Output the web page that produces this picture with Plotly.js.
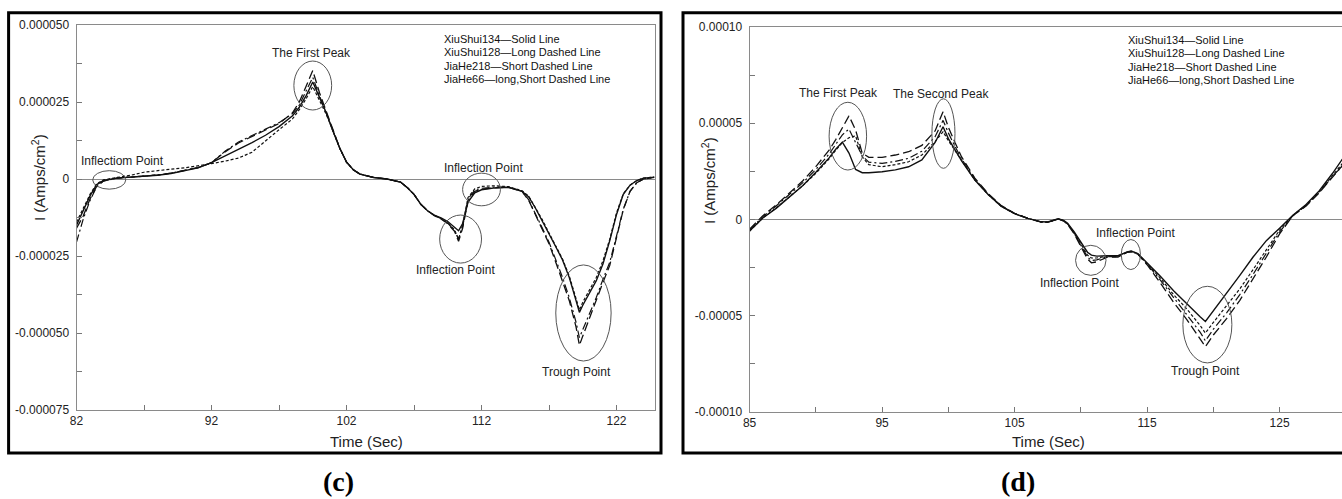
<!DOCTYPE html>
<html>
<head>
<meta charset="utf-8">
<script src="https://cdn.plot.ly/plotly-3.0.1.min.js"></script>
<style>
  html, body { margin: 0; padding: 0; background: #fff; }
  #chart { width: 1342px; height: 499px; }
</style>
</head>
<body>
<div id="chart"></div>
<script>
// ---------- Panel (c): time (s) and current (values in 1e-6 A/cm^2) ----------
const timeC = [82, 82.5, 83, 83.5, 84, 85, 86, 87, 88, 89, 90, 91, 92, 93, 94, 95, 96, 97, 98, 98.5, 99, 99.5, 100, 100.5, 101, 101.5, 102, 102.5, 103, 104, 105, 106, 106.5, 107, 107.5, 108, 108.5, 109, 109.5, 110, 110.3, 110.6, 111, 111.5, 112, 113, 114, 115, 115.5, 116, 116.5, 117, 117.5, 118, 118.5, 119, 119.25, 119.5, 120, 120.5, 121, 121.5, 122, 122.5, 123, 123.5, 124, 124.8];

const xiuShui134C = [-15, -10, -5.5, -1.8, -0.5, 0.3, 0.6, 0.9, 1.2, 1.8, 2.6, 3.6, 5.3, 7.5, 9.5, 11.8, 14.2, 17, 20.5, 23.3, 27, 31.5, 26.5, 21.5, 15.5, 10, 5.5, 3, 1.6, 0.5, 0, -1, -2.8, -5, -8.2, -10.3, -11.7, -12.6, -13.8, -15.5, -16.8, -14.5, -7.5, -4.5, -3.5, -2.9, -2.7, -4, -5.8, -9.5, -13.5, -17.8, -22, -26.3, -32, -39.5, -43.3, -41, -37, -33, -27.5, -20, -11.5, -5, -2, -0.5, 0.3, 0.6];

const xiuShui128C = [-16, -12, -6.5, -2.3, -0.6, 0.3, 0.6, 0.9, 1.3, 1.9, 2.7, 3.7, 5.3, 8.8, 11.7, 13.8, 15.8, 18, 21.5, 25, 30, 35.2, 28, 22, 15.5, 10, 5.5, 3, 1.6, 0.5, 0, -1, -2.8, -5, -8.2, -10.3, -11.9, -13, -14.5, -17, -20.2, -16, -7, -4, -3.3, -2.8, -2.7, -4, -7, -11.5, -16, -21, -27, -33, -39.5, -48, -54, -51, -45, -39.5, -33.5, -28, -19, -10, -4, -1.2, 0, 0.5];

const jiaHe218C = [-14, -9.5, -5, -1.5, -0.3, 0.5, 1.2, 2.2, 2.8, 3.2, 3.6, 4.2, 5, 5.8, 6.8, 8.7, 12.5, 16, 19.5, 22.5, 26, 30, 25.5, 21, 15.5, 10, 5.5, 3, 1.6, 0.5, 0, -1, -2.8, -5, -8.2, -10.3, -11.8, -12.8, -14.2, -16.5, -19.5, -15, -6, -3.2, -2.4, -2.2, -2.5, -3.8, -5.6, -9.2, -13.2, -17.5, -21.7, -26, -31.5, -38.5, -42.5, -40, -36, -32, -26.5, -19.5, -11, -4.8, -2, -0.5, 0.3, 0.6];

const jiaHe66C = [-20.5, -13, -7, -2.5, -0.7, 0.3, 0.6, 0.9, 1.3, 1.9, 2.7, 3.7, 5.3, 9, 12, 14.2, 16.2, 18.3, 21.2, 24, 28.5, 33, 27, 21.5, 15.5, 10, 5.5, 3, 1.6, 0.5, 0, -1, -2.8, -5, -8.2, -10.3, -11.8, -12.9, -14.3, -16.8, -19.5, -15.5, -6.5, -3.6, -3, -2.6, -2.6, -4, -6.8, -11.2, -15.6, -20.5, -26.2, -32, -38.5, -46.5, -51.5, -49, -43.5, -38.5, -32.5, -27, -18.5, -9.8, -4, -1.2, 0, 0.5];

// ---------- Panel (d) ----------
const timeD = [85, 86, 87, 88, 89, 90, 91, 91.5, 92, 92.5, 93, 93.5, 94, 95, 96, 97, 98, 99, 99.6, 100, 100.5, 101, 102, 103, 104, 105, 106, 107, 107.5, 108, 108.3, 108.7, 109, 109.5, 110, 110.5, 110.8, 111.2, 112, 112.8, 113.5, 113.8, 114.3, 115, 116, 117, 118, 119, 119.4, 120, 121, 122, 123, 124, 125, 126, 127, 128, 129, 129.85];

const xiuShui134D = [-6, 0.8, 5.8, 11.5, 17.5, 24.5, 32, 36.5, 40.2, 34.5, 26, 24.3, 24.3, 24.8, 25.8, 27.4, 31, 40, 48.2, 42, 36, 30.5, 20.5, 13, 6.8, 3, 0.6, -1.2, -1.3, -0.3, 0.4, -0.5, -2, -6.5, -12, -17, -18.5, -19, -18.8, -18.8, -16.8, -16.3, -17.7, -22.5, -29.5, -37, -44, -50.5, -53, -47.5, -38.5, -29, -19.5, -11, -4.5, 2.2, 7.8, 15, 24, 32.5];

const xiuShui128D = [-5, 2, 7.5, 13.5, 20, 27.5, 36, 41.5, 47.5, 53.8, 46.5, 34.5, 32.3, 32.3, 33.5, 35.2, 38.5, 46, 56, 48, 40, 32.5, 21.5, 13.5, 7.2, 3.2, 0.6, -1.3, -1.5, -0.5, 0.3, -0.8, -2.5, -7.5, -14, -20.5, -22.5, -22, -19.5, -19.5, -17, -16.8, -18, -23.5, -33, -43, -52, -62, -66, -60, -51.5, -42, -31, -19.5, -7.5, 2, 7, 14, 22, 29];

const jiaHe218D = [-6, 0.8, 6, 11.5, 17.5, 24, 31.5, 36, 40, 42.5, 43.5, 32.5, 28.5, 27.4, 28.5, 30, 33.5, 40.5, 45.6, 41, 36, 30.5, 20.5, 13, 6.8, 3, 0.6, -1.2, -1.4, -0.4, 0.3, -0.6, -2.2, -7, -13, -18.5, -20, -20, -19, -19, -17, -16.5, -17.8, -22.8, -30.5, -39, -46.5, -55, -59, -53.5, -45, -36, -26, -15.5, -5.5, 2, 7.5, 14.5, 23, 30];

const jiaHe66D = [-5.5, 1.5, 7, 12.8, 19, 26, 34, 39, 44, 47, 40, 33, 29.8, 29.2, 30.2, 31.8, 35.5, 43, 51.5, 45, 38, 31.5, 21, 13.2, 7, 3.1, 0.6, -1.3, -1.4, -0.4, 0.3, -0.7, -2.3, -7.2, -13.5, -19.5, -21.3, -21, -19.3, -19.3, -17, -16.5, -18, -23, -31.5, -40.5, -49, -58.5, -63, -57, -48.5, -39, -28.5, -17.5, -6.5, 2, 7.2, 14, 22.5, 28.5];

// ---------- Tick labels ----------
const tickValsC = [50, 25, 0, -25, -50, -75];
const tickTextC = ['0.000050', '0.000025', '0', '-0.000025', '-0.000050', '-0.000075'];
const tickValsD = [100, 50, 0, -50, -100];
const tickTextD = ['0.00010', '0.00005', '0', '-0.00005', '-0.00010'];
const xTicksC = [82, 92, 102, 112, 122];
const xTicksD = [85, 95, 105, 115, 125];

const seriesNames = ['XiuShui134', 'XiuShui128', 'JiaHe218', 'JiaHe66'];
const legendLines = ['XiuShui134\u2014Solid Line', 'XiuShui128\u2014Long Dashed Line', 'JiaHe218\u2014Short Dashed Line', 'JiaHe66\u2014long,Short Dashed Line'];

// ---------- Figure ----------
const W = 1342, H = 499;
const px = x => x / W;
const py = y => 1 - y / H;
const FONT = 'Liberation Sans, Arial, sans-serif';

const dashes = ['solid', '9px,4px', '3px,2px', '8px,3px,2px,3px'];
const widths = [1.4, 1.3, 1.2, 1.2];
const dataC = [xiuShui134C, xiuShui128C, jiaHe218C, jiaHe66C];
const dataD = [xiuShui134D, xiuShui128D, jiaHe218D, jiaHe66D];

const traces = [];
dataC.forEach((ys, i) => traces.push({
  x: timeC, y: ys, name: seriesNames[i], type: 'scatter', mode: 'lines',
  line: {color: '#111', width: widths[i], dash: dashes[i]}, xaxis: 'x', yaxis: 'y', showlegend: false
}));
dataD.forEach((ys, i) => traces.push({
  x: timeD, y: ys, name: seriesNames[i], type: 'scatter', mode: 'lines',
  line: {color: '#111', width: widths[i], dash: dashes[i]}, xaxis: 'x2', yaxis: 'y2', showlegend: false
}));

const axisCommon = {
  showgrid: false, ticks: 'inside', ticklen: 5, tickcolor: '#777', tickwidth: 1,
  showline: true, linecolor: '#8a8a8a', linewidth: 1,
  tickfont: {family: FONT, size: 12, color: '#222'}, zeroline: false, fixedrange: true
};

const layout = {
  width: W, height: H,
  margin: {l: 0, r: 0, t: 0, b: 0},
  paper_bgcolor: '#fff', plot_bgcolor: '#fff',
  showlegend: false,
  xaxis: Object.assign({}, axisCommon, {
    domain: [px(76.5), px(654.6)], range: [82, 124.82], anchor: 'y',
    tickmode: 'array', tickvals: xTicksC, ticktext: xTicksC.map(String), mirror: true,
    minor: {tickmode: 'linear', tick0: 82, dtick: 5, ticks: 'inside', ticklen: 5, tickcolor: '#777'}
  }),
  yaxis: Object.assign({}, axisCommon, {
    domain: [py(410), py(25)], range: [-75, 50], anchor: 'x',
    tickmode: 'array', tickvals: tickValsC, ticktext: tickTextC, mirror: true,
    zeroline: true, zerolinecolor: '#8a8a8a', zerolinewidth: 1, ticklabelstandoff: 4,
    minor: {tickmode: 'linear', tick0: 0, dtick: 12.5, ticks: 'inside', ticklen: 5, tickcolor: '#777'}
  }),
  xaxis2: Object.assign({}, axisCommon, {
    domain: [px(749.6), 1], range: [85, 129.71], anchor: 'y2',
    tickmode: 'array', tickvals: xTicksD, ticktext: xTicksD.map(String), mirror: true,
    minor: {tickmode: 'linear', tick0: 85, dtick: 5, ticks: 'inside', ticklen: 5, tickcolor: '#777'}
  }),
  yaxis2: Object.assign({}, axisCommon, {
    domain: [py(412), py(27)], range: [-100, 100], anchor: 'x2',
    tickmode: 'array', tickvals: tickValsD, ticktext: tickTextD, mirror: false,
    zeroline: true, zerolinecolor: '#8a8a8a', zerolinewidth: 1, ticklabelstandoff: 4,
    minor: {tickmode: 'linear', tick0: 0, dtick: 25, ticks: 'inside', ticklen: 5, tickcolor: '#777'}
  }),
  shapes: [],
  annotations: []
};

// Outer black frames
layout.shapes.push({type: 'rect', xref: 'paper', yref: 'paper', x0: px(8.6), x1: px(661), y0: py(453), y1: py(12.7), line: {color: '#000', width: 3}, layer: 'above'});
layout.shapes.push({type: 'rect', xref: 'paper', yref: 'paper', x0: px(683), x1: 1.01, y0: py(453), y1: py(12.7), line: {color: '#000', width: 3}, layer: 'above'});

// Ellipses (in data coordinates)
const ellC = [[83.2, 85.65, -3.3, 2.7], [98.1, 100.9, 22.4, 38.3], [110.6, 113.4, -8.7, 1.9], [108.9, 112.0, -27.3, -11.7], [117.5, 121.6, -59.1, -27.9]];
const ellD = [[91.0, 93.83, 25.7, 60.9], [98.76, 100.5, 26.6, 62.7], [113.05, 114.5, -26.0, -10.4], [109.6, 111.9, -29, -13.4], [117.7, 121.4, -74.5, -34.7]];
ellC.forEach(e => layout.shapes.push({type: 'circle', xref: 'x', yref: 'y', x0: e[0], x1: e[1], y0: e[2], y1: e[3], line: {color: '#555', width: 1}}));
ellD.forEach(e => layout.shapes.push({type: 'circle', xref: 'x2', yref: 'y2', x0: e[0], x1: e[1], y0: e[2], y1: e[3], line: {color: '#555', width: 1}}));

// Feature labels
const labFont = {family: FONT, size: 12, color: '#222'};
const labelsC = [['Inflectiom Point', 85.37, 5.8], ['The First Peak', 99.44, 40.9], ['Inflection Point', 112.11, 3.6], ['Inflection Point', 110.04, -29.5], ['Trough Point', 119.07, -62.7]];
const labelsD = [['The First Peak', 91.71, 65.5], ['The Second Peak', 99.48, 65.2], ['Inflection Point', 114.16, -7.0], ['Inflection Point', 109.9, -33], ['Trough Point', 119.44, -78.7]];
labelsC.forEach(l => layout.annotations.push({text: l[0], x: l[1], y: l[2], xref: 'x', yref: 'y', showarrow: false, font: labFont, xanchor: 'center', yanchor: 'middle'}));
labelsD.forEach(l => layout.annotations.push({text: l[0], x: l[1], y: l[2], xref: 'x2', yref: 'y2', showarrow: false, font: labFont, xanchor: 'center', yanchor: 'middle'}));

// Text legends
const legFont = {family: FONT, size: 11, color: '#111'};
const legYC = [38.5, 52.5, 65.7, 79.3];
const legYD = [40, 53.3, 66.7, 80];
legendLines.forEach((t, i) => {
  layout.annotations.push({text: t, xref: 'paper', yref: 'paper', x: px(442), y: py(legYC[i]), xanchor: 'left', yanchor: 'middle', showarrow: false, font: legFont});
  layout.annotations.push({text: t, xref: 'paper', yref: 'paper', x: px(1126), y: py(legYD[i]), xanchor: 'left', yanchor: 'middle', showarrow: false, font: legFont});
});

// Axis titles
const titleFont = {family: FONT, size: 15, color: '#222'};
layout.annotations.push({text: 'Time (Sec)', xref: 'paper', yref: 'paper', x: px(366), y: py(441), xanchor: 'center', yanchor: 'middle', showarrow: false, font: titleFont});
layout.annotations.push({text: 'Time (Sec)', xref: 'paper', yref: 'paper', x: px(1048), y: py(441), xanchor: 'center', yanchor: 'middle', showarrow: false, font: titleFont});
layout.annotations.push({text: 'I (Amps/cm<sup>2</sup>)', xref: 'paper', yref: 'paper', x: px(38), y: py(178), xanchor: 'center', yanchor: 'middle', textangle: -90, showarrow: false, font: titleFont});
layout.annotations.push({text: 'I (Amps/cm<sup>2</sup>)', xref: 'paper', yref: 'paper', x: px(708), y: py(181), xanchor: 'center', yanchor: 'middle', textangle: -90, showarrow: false, font: titleFont});

// Panel labels
const panelFont = {family: 'Liberation Serif, Times New Roman, serif', size: 28, color: '#000'};
layout.annotations.push({text: '<b>(c)</b>', xref: 'paper', yref: 'paper', x: px(338), y: py(481), xanchor: 'center', yanchor: 'middle', showarrow: false, font: panelFont});
layout.annotations.push({text: '<b>(d)</b>', xref: 'paper', yref: 'paper', x: px(1018), y: py(481), xanchor: 'center', yanchor: 'middle', showarrow: false, font: panelFont});

Plotly.newPlot('chart', traces, layout, {displayModeBar: false, staticPlot: true});
</script>
</body>
</html>
